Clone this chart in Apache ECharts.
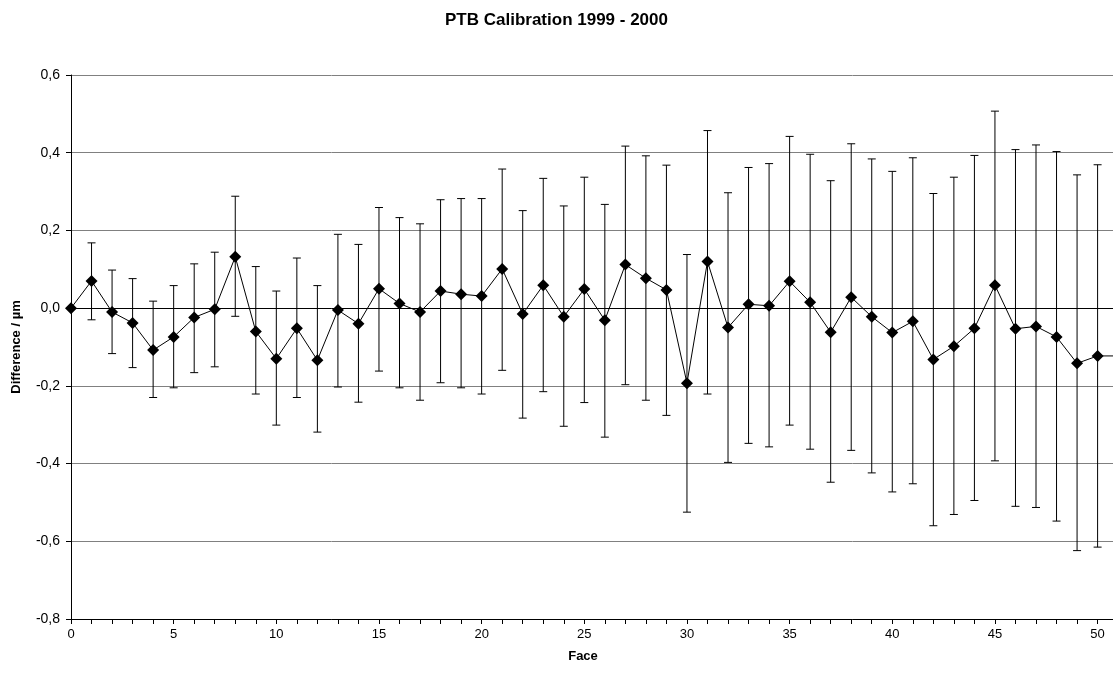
<!DOCTYPE html>
<html>
<head>
<meta charset="utf-8">
<title>PTB Calibration 1999 - 2000</title>
<script src="https://cdn.jsdelivr.net/npm/echarts@6/dist/echarts.min.js"></script>
<style>
  html, body { margin: 0; padding: 0; background: #fff; }
  #chart { width: 1113px; height: 675px; }
</style>
</head>
<body>
<div id="chart"></div>
<script>
// faces 0..51 (51 is only seen as the line running off the right edge)
var faces = [0, 1, 2, 3, 4, 5, 6, 7, 8, 9, 10, 11, 12, 13, 14, 15, 16, 17, 18, 19, 20,
  21, 22, 23, 24, 25, 26, 27, 28, 29, 30, 31, 32, 33, 34, 35, 36, 37, 38, 39, 40,
  41, 42, 43, 44, 45, 46, 47, 48, 49, 50, 51];

var diff = [0, 0.070, -0.010, -0.038, -0.108, -0.074, -0.024, -0.003, 0.132, -0.060, -0.130,
  -0.052, -0.134, -0.005, -0.040, 0.050, 0.012, -0.010, 0.044, 0.036, 0.031,
  0.101, -0.015, 0.059, -0.022, 0.049, -0.031, 0.112, 0.077, 0.047, -0.193,
  0.120, -0.050, 0.010, 0.006, 0.069, 0.015, -0.062, 0.028, -0.022, -0.063,
  -0.034, -0.132, -0.098, -0.052, 0.059, -0.053, -0.047, -0.074, -0.142, -0.123,
  -0.123];

// error bar ends, face 0 is the reference and has none
var upper = [null, 0.168, 0.098, 0.076, 0.018, 0.058, 0.114, 0.144, 0.288, 0.107, 0.044,
  0.129, 0.058, 0.190, 0.164, 0.259, 0.233, 0.217, 0.279, 0.282, 0.282,
  0.358, 0.251, 0.334, 0.263, 0.337, 0.267, 0.417, 0.392, 0.368, 0.138,
  0.457, 0.297, 0.362, 0.372, 0.442, 0.396, 0.328, 0.423, 0.384, 0.352,
  0.387, 0.295, 0.337, 0.393, 0.507, 0.408, 0.420, 0.403, 0.343, 0.369];

var lower = [null, -0.030, -0.117, -0.153, -0.230, -0.205, -0.166, -0.151, -0.021, -0.221, -0.301,
  -0.230, -0.319, -0.203, -0.242, -0.162, -0.205, -0.237, -0.192, -0.205, -0.221,
  -0.160, -0.283, -0.215, -0.304, -0.243, -0.332, -0.197, -0.237, -0.276, -0.525,
  -0.221, -0.397, -0.348, -0.357, -0.301, -0.363, -0.448, -0.366, -0.424, -0.473,
  -0.452, -0.560, -0.531, -0.495, -0.393, -0.510, -0.513, -0.548, -0.624, -0.615];

var font = '"Liberation Sans", Arial, sans-serif';

var lineData = faces.map(function(f, i) { return [f, diff[i]]; });
var barData = [];
for (var i = 0; i < upper.length; i++) {
  if (upper[i] !== null) barData.push([faces[i], lower[i], upper[i]]);
}

var chart = echarts.init(document.getElementById('chart'), null, { renderer: 'canvas' });

chart.setOption({
  animation: false,
  backgroundColor: '#fff',
  title: {
    text: 'PTB Calibration 1999 - 2000',
    left: 'center',
    top: 7,
    textStyle: { fontFamily: font, fontSize: 17, fontWeight: 'bold', color: '#000' }
  },
  grid: { left: 71, top: 75, right: 0, bottom: 56 },
  xAxis: {
    type: 'value',
    min: 0,
    max: 50.75,
    interval: 1,
    name: 'Face',
    nameLocation: 'middle',
    nameGap: 31,
    nameTextStyle: { fontFamily: font, fontSize: 13, fontWeight: 'bold', color: '#000', padding: [0, 18, 0, 0] },
    axisLine: { onZero: false, lineStyle: { color: '#000', width: 1 } },
    axisTick: { show: true, inside: false, length: 5, lineStyle: { color: '#000', width: 1 } },
    axisLabel: {
      margin: 9,
      fontFamily: font,
      fontSize: 13,
      color: '#000',
      showMaxLabel: false,
      formatter: function(v) { return (v % 5 === 0) ? String(v) : ''; }
    },
    splitLine: { show: false }
  },
  yAxis: {
    type: 'value',
    min: -0.8,
    max: 0.6,
    interval: 0.2,
    name: 'Difference / µm',
    nameLocation: 'middle',
    nameGap: 48,
    nameTextStyle: { fontFamily: font, fontSize: 13, fontWeight: 'bold', color: '#000' },
    axisLine: { show: true, onZero: false, lineStyle: { color: '#000', width: 1 } },
    axisTick: { show: true, inside: false, length: 5, lineStyle: { color: '#000', width: 1 } },
    axisLabel: {
      margin: 11,
      fontFamily: font,
      fontSize: 14,
      color: '#000',
      formatter: function(v) { return v.toFixed(1).replace('.', ','); }
    },
    splitLine: { show: true, lineStyle: { color: '#808080', width: 1 } }
  },
  series: [
    {
      name: 'uncertainty',
      type: 'custom',
      data: barData,
      encode: { x: 0, y: [1, 2] },
      z: 2,
      renderItem: function(params, api) {
        var lo = api.coord([api.value(0), api.value(1)]);
        var hi = api.coord([api.value(0), api.value(2)]);
        var cap = 4;
        var style = { stroke: '#000', lineWidth: 1 };
        return {
          type: 'group',
          children: [
            { type: 'line', shape: { x1: hi[0], y1: hi[1], x2: lo[0], y2: lo[1] }, style: style },
            { type: 'line', shape: { x1: hi[0] - cap, y1: hi[1], x2: hi[0] + cap, y2: hi[1] }, style: style },
            { type: 'line', shape: { x1: lo[0] - cap, y1: lo[1], x2: lo[0] + cap, y2: lo[1] }, style: style }
          ]
        };
      }
    },
    {
      name: 'Difference',
      type: 'line',
      data: lineData,
      z: 3,
      symbol: 'diamond',
      symbolSize: 12,
      itemStyle: { color: '#000' },
      lineStyle: { color: '#000', width: 1 },
      markLine: {
        silent: true,
        symbol: 'none',
        label: { show: false },
        lineStyle: { color: '#000', width: 1, type: 'solid' },
        data: [{ yAxis: 0 }]
      }
    }
  ]
});
</script>
</body>
</html>
